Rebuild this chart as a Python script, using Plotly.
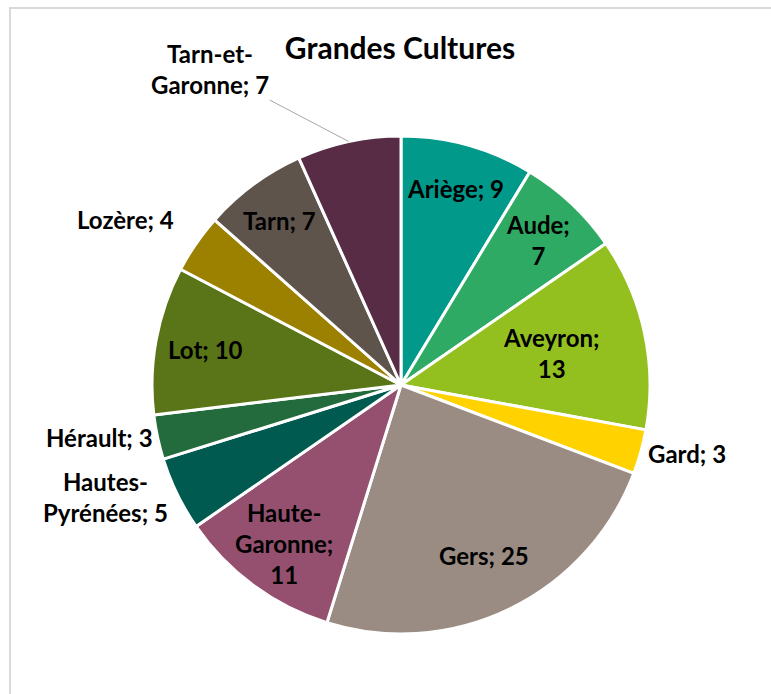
import math
import plotly.graph_objects as go

# Données
departements = ['Ariège', 'Aude', 'Aveyron', 'Gard', 'Gers', 'Haute-Garonne',
                'Hautes-Pyrénées', 'Hérault', 'Lot', 'Lozère', 'Tarn', 'Tarn-et-Garonne']
valeurs = [9, 7, 13, 3, 25, 11, 5, 3, 10, 4, 7, 7]
libelles = ['Ariège; 9', 'Aude;<br>7', 'Aveyron;<br>13', 'Gard; 3', 'Gers; 25',
            'Haute-<br>Garonne;<br>11', 'Hautes-<br>Pyrénées; 5', 'Hérault; 3',
            'Lot; 10', 'Lozère; 4', 'Tarn; 7', 'Tarn-et-<br>Garonne; 7']

couleurs = ['#00998A', '#2EAA64', '#93C01F', '#FFD200', '#9A8C82', '#95506F',
            '#005A50', '#236A3C', '#5A7517', '#9C8000', '#5F544C', '#592C45']

W, H = 771, 694
CX, CY, R = 401, 385, 249  # centre et rayon du camembert (px)

police = 'Lato, Calibri, Liberation Sans, sans-serif'

fig = go.Figure()

fig.add_trace(go.Pie(
    labels=departements,
    values=valeurs,
    sort=False,
    direction='clockwise',
    rotation=0,
    textinfo='none',
    marker=dict(colors=couleurs, line=dict(color='white', width=3)),
    domain=dict(x=[(CX - R) / W, (CX + R) / W], y=[1 - (CY + R) / H, 1 - (CY - R) / H]),
    showlegend=False,
    hoverinfo='label+value',
))

# position des étiquettes : (fraction du rayon, ancrage, décalage vertical)
placement = {
    'Ariège': (0.82, 'center', 0), 'Aude': (0.80, 'center', 0), 'Aveyron': (0.62, 'center', 0),
    'Gard': (1.02, 'left', 0), 'Gers': (0.76, 'center', 0), 'Haute-Garonne': (0.79, 'center', 0),
    'Hautes-Pyrénées': (1.03, 'right', 0), 'Hérault': (1.01, 'right', 0), 'Lot': (0.80, 'center', 0),
    'Lozère': (1.10, 'right', 10), 'Tarn': (0.82, 'center', 0),
}

total = sum(valeurs)
cumul = 0
for dep, val, lib in zip(departements, valeurs, libelles):
    milieu = (cumul + val / 2) / total * 2 * math.pi
    cumul += val
    txt = '<b>' + lib.replace('<br>', '</b><br><b>') + '</b>'
    if dep == 'Tarn-et-Garonne':
        px = CX + R * math.sin(milieu)
        py = CY - R * math.cos(milieu)
        fig.add_annotation(x=px / W, y=1 - py / H, xref='paper', yref='paper',
                           text=txt, showarrow=True, arrowhead=0, arrowwidth=1,
                           arrowcolor='#A6A6A6', ax=-139, ay=-73,
                           font=dict(family=police, size=24, color='black'))
        continue
    frac, ancre, decal = placement[dep]
    px = CX + frac * R * math.sin(milieu)
    py = CY - frac * R * math.cos(milieu)
    fig.add_annotation(x=px / W, y=1 - py / H, xref='paper', yref='paper',
                       text=txt, showarrow=False, xanchor=ancre, yanchor='middle',
                       yshift=decal,
                       font=dict(family=police, size=24, color='black'))

# cadre gris
fig.add_shape(type='rect', xref='paper', yref='paper', x0=10 / W, x1=1.05,
              y0=-0.05, y1=1 - 8 / H, line=dict(color='#D9D9D9', width=2))

fig.update_layout(
    width=W, height=H,
    margin=dict(l=0, r=0, t=0, b=0),
    paper_bgcolor='white',
    plot_bgcolor='white',
    title=dict(text='<b>Grandes Cultures</b>', x=400 / W, xanchor='center',
               y=1 - 48 / H, yanchor='middle',
               font=dict(family=police, size=30, color='black')),
    font=dict(family=police, color='black'),
)

fig.write_html('out.html', config={'displayModeBar': False},
               post_script="document.body.style.margin='0';")
